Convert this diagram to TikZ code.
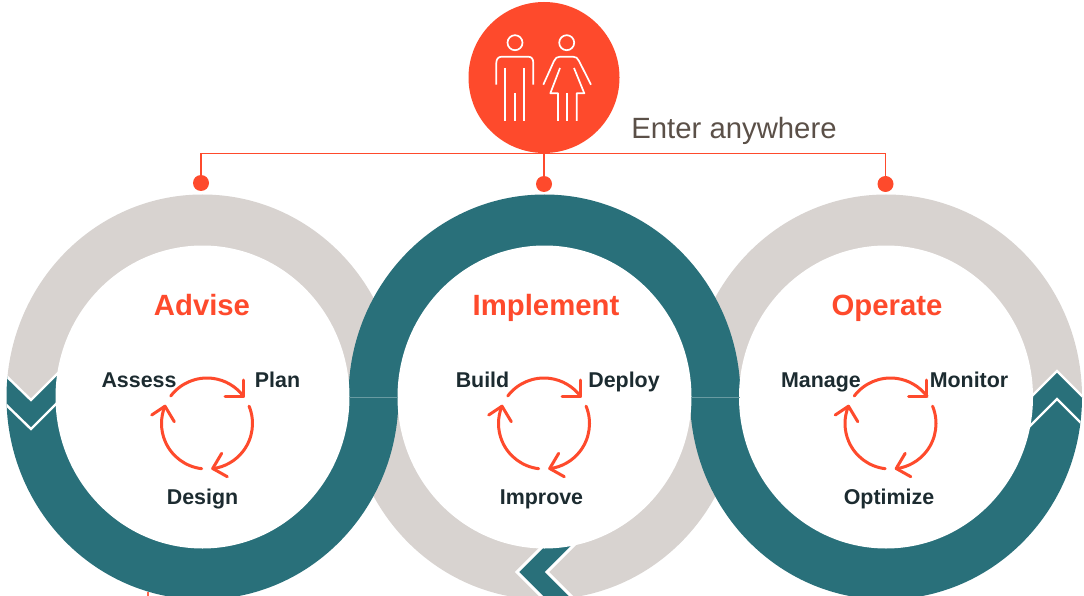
\documentclass[tikz,border=0pt]{standalone}
\usepackage{fontspec}
\setmainfont{Liberation Sans}
\definecolor{hotred}{HTML}{FE4A2C}
\definecolor{ringteal}{HTML}{29707A}
\definecolor{ringgray}{HTML}{D8D3D0}
\definecolor{inktext}{HTML}{1C2B30}
\definecolor{entertext}{HTML}{5B5048}
\tikzset{
  title/.style={font=\fontsize{29.3}{32}\selectfont\bfseries,text=hotred,inner sep=0pt,anchor=base},
  steplabel/.style={font=\fontsize{21.4}{24}\selectfont\bfseries,text=inktext,inner sep=0pt,anchor=base},
  feed/.style={draw=hotred,line width=1.2pt},
  reddot/.style={circle,fill=hotred,minimum size=16pt,inner sep=0pt},
  cyc/.style={draw=hotred,line width=3pt,line cap=round,line join=round},
  icon/.style={draw=white,line width=1.7pt,line join=round},
  vline/.style={draw=white,line width=2.4pt,miter limit=10}
}
% outer / inner ring ellipses
\newcommand{\outerring}[1]{(#1,397) ellipse [x radius=196,y radius=202.5]}
\newcommand{\innerring}[1]{(#1,397) ellipse [x radius=147,y radius=151.5]}
% cycle of three arrows
\newcommand{\cycle}[1]{%
  \begin{scope}[shift={(#1,423.5)}]
    \draw[cyc] (-142.8:45.5) arc [start angle=-142.8,end angle=-36.4,radius=45.5];
    \draw[cyc] (36,-43.5) -- (36,-27) -- (18,-27);
    \draw[cyc] (-22.4:45.5) arc [start angle=-22.4,end angle=82.7,radius=45.5];
    \draw[cyc] (14.7,29.8) -- (5.7,45) -- (20.3,53.2);
    \draw[cyc] (96.7:45.5) arc [start angle=96.7,end angle=202.3,radius=45.5];
    \draw[cyc] (-55.3,-8.5) -- (-42,-17.3) -- (-32.7,-1.8);
  \end{scope}}
\begin{document}
\begin{tikzpicture}[x=1pt,y=-1pt]
\useasboundingbox (0,0) rectangle (1084,596);
\clip (0,0) rectangle (1084,596);
\fill[white] (0,0) rectangle (1084,596);
% gray sectors
\begin{scope}
  \clip (-5,0) -- (400,0) -- (400,397) -- (60,397) -- (60,370) -- (31,400) -- (-5,364) -- cycle;
  \fill[ringgray] \outerring{202.5};
\end{scope}
\begin{scope}
  \clip (1090,0) -- (690,0) -- (690,397) -- (1028,397) -- (1028,400) -- (1057,371) -- (1090,404) -- cycle;
  \fill[ringgray] \outerring{886};
\end{scope}
\begin{scope}
  \clip (340,397) rectangle (750,610);
  \fill[ringgray] \outerring{544.5};
\end{scope}
% middle chevron
\begin{scope}
  \clip \outerring{544.5};
  \filldraw[ringteal,draw=white,line width=3pt,miter limit=10] (549.9,539) -- (580.1,539) -- (547.1,572) -- (577.1,602) -- (546.9,602) -- (516.9,572) -- cycle;
\end{scope}
% teal sectors
\begin{scope}
  \clip (340,0) rectangle (750,397);
  \fill[ringteal] \outerring{544.5};
\end{scope}
\begin{scope}
  \clip (-5,364) -- (31,400) -- (60,370) -- (60,397) -- (400,397) -- (400,610) -- (-5,610) -- cycle;
  \fill[ringteal] \outerring{202.5};
\end{scope}
\begin{scope}
  \clip (1090,404) -- (1057,371) -- (1028,400) -- (1028,397) -- (690,397) -- (690,610) -- (1090,610) -- cycle;
  \fill[ringteal] \outerring{886};
\end{scope}
% white chevron lines
\begin{scope}
  \clip \outerring{202.5};
  \draw[vline] (-5,365) -- (31,400) -- (65,366);
  \draw[vline] (-5,394) -- (31,429) -- (65,395);
\end{scope}
\begin{scope}
  \clip \outerring{886};
  \draw[vline] (1090,404) -- (1057,371) -- (1024,404);
  \draw[vline] (1090,432) -- (1057,399) -- (1024,432);
\end{scope}
% inner discs
\fill[white] \innerring{202.5};
\fill[white] \innerring{544.5};
\fill[white] \innerring{886};
% seams
\draw[ringteal!70!white,line width=.6pt] (349,397) -- (398,397);
\draw[ringteal!70!white,line width=.6pt] (691,397) -- (740,397);
% stray line at bottom
\coordinate (strayA) at (148,592);
\coordinate (strayB) at (148,597);
\draw[hotred!85!white,line width=1.5pt] (strayA) -- (strayB);
% head
\node[circle,fill=hotred,minimum size=151pt,inner sep=0pt] (head) at (544,77.5) {};
\node[reddot] (d1) at (201,183) {};
\node[reddot] (d2) at (544,184) {};
\node[reddot] (d3) at (885.5,184) {};
\coordinate (bus) at (544,153.5);
\draw[feed] (d1.center) -- (d1.center |- bus) -- (d3.center |- bus) -- (d3.center);
\draw[feed] (bus) -- (d2.center);
% man
\draw[icon] (515,42.7) circle [radius=7.5];
\draw[icon] (496.3,84.7) -- (496.3,63) .. controls (496.3,59) and (498.5,56.7) .. (501.7,56.7) -- (528.3,56.7) .. controls (531.5,56.7) and (533.3,59) .. (533.3,63) -- (533.3,84.7);
\draw[icon] (505.3,68) -- (505.3,121);
\draw[icon] (515,93) -- (515,121);
\draw[icon] (524.3,68) -- (524.3,121);
% woman
\draw[icon] (566.7,42.7) circle [radius=7.5];
\draw[icon] (543.3,84.7) -- (554,61) .. controls (555.5,58) and (557,56.7) .. (560,56.7) -- (573,56.7) .. controls (576,56.7) and (577.5,58) .. (579,61) -- (591,84.7);
\draw[icon] (560,68) -- (550.3,93.3) -- (558,93.3) -- (558,121);
\draw[icon] (574,68) -- (584.3,93.3) -- (576.7,93.3) -- (576.7,121);
\draw[icon] (566.7,93.3) -- (566.7,121);
% cycles
\cycle{207}
\cycle{544}
\cycle{890.5}
% text
\node[font=\fontsize{29.3}{32}\selectfont,text=entertext,inner sep=0pt,anchor=base] (enter) at (734,138.5) {Enter anywhere};
\node[title] (t1) at (202,315) {Advise};
\node[title] (t2) at (546,315) {Implement};
\node[title] (t3) at (887,315) {Operate};
\node[steplabel] (a1) at (139,387) {Assess};
\node[steplabel] (a2) at (277.5,387) {Plan};
\node[steplabel] (a3) at (202.5,504) {Design};
\node[steplabel] (b1) at (482.5,387) {Build};
\node[steplabel] (b2) at (624,387) {Deploy};
\node[steplabel] (b3) at (541.5,504) {Improve};
\node[steplabel] (c1) at (821,387) {Manage};
\node[steplabel] (c2) at (969,387) {Monitor};
\node[steplabel] (c3) at (889,504) {Optimize};
\end{tikzpicture}
\end{document}
